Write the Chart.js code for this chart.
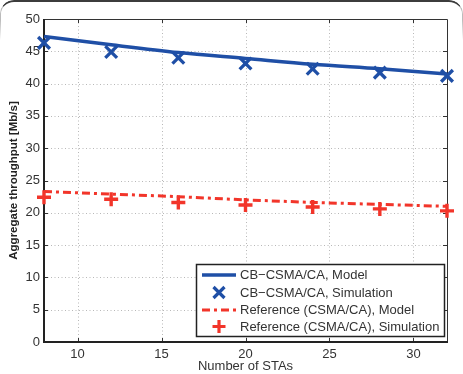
<!DOCTYPE html>
<html>
<head>
<meta charset="utf-8">
<script src="https://cdn.jsdelivr.net/npm/chart.js@4/dist/chart.umd.min.js"></script>
<style>
html,body{margin:0;padding:0;background:#fff;}
#wrap{position:relative;width:463px;height:374px;overflow:hidden;}
#frame{position:absolute;left:0;top:0;width:463px;height:380px;box-sizing:border-box;border-top:2px solid #3c3c3c;border-left:1px solid #bbb;border-right:1px solid #bbb;border-radius:14px 14px 0 0;pointer-events:none;
-webkit-mask-image:linear-gradient(to bottom,#000 0,#000 20px,transparent 40px);mask-image:linear-gradient(to bottom,#000 0,#000 20px,transparent 40px);}
canvas{position:absolute;left:0;top:0;}
</style>
</head>
<body>
<div id="wrap"><canvas id="c" width="463" height="374"></canvas><div id="frame"></div></div>
<script>
const stas = [8, 12, 16, 20, 24, 28, 32];
const cbModel = [47.3, 46.0, 44.8, 43.9, 43.0, 42.3, 41.5];
const cbSim = [46.3, 44.9, 44.0, 43.1, 42.3, 41.7, 41.2];
const refModel = [23.3, 22.9, 22.5, 22.0, 21.6, 21.3, 21.0];
const refSim = [22.4, 22.1, 21.6, 21.2, 20.9, 20.6, 20.3];
const xTicks = [10, 15, 20, 25, 30];
const yTicks = [0, 5, 10, 15, 20, 25, 30, 35, 40, 45, 50];
const seriesNames = ['CB\u2212CSMA/CA, Model', 'CB\u2212CSMA/CA, Simulation', 'Reference (CSMA/CA), Model', 'Reference (CSMA/CA), Simulation'];

const BLUE = '#1f4fa6';
const RED = '#f2352a';
const FONT = '"Liberation Sans", Arial, Helvetica, sans-serif';

function pts(ys){ return stas.map((x,i)=>({x:x, y:ys[i]})); }

const boxPlugin = {
  id: 'boxPlugin',
  beforeDatasetsDraw(chart){
    const {ctx, chartArea:a, scales:{x, y}} = chart;
    ctx.save();
    ctx.strokeStyle = '#b8b8b8';
    ctx.lineWidth = 1;
    ctx.setLineDash([1, 2.5]);
    xTicks.forEach(v=>{ const px = Math.round(x.getPixelForValue(v))+0.5; ctx.beginPath(); ctx.moveTo(px,a.top); ctx.lineTo(px,a.bottom); ctx.stroke(); });
    yTicks.forEach(v=>{ if(v===0||v===50) return; const py = Math.round(y.getPixelForValue(v))+0.5; ctx.beginPath(); ctx.moveTo(a.left,py); ctx.lineTo(a.right,py); ctx.stroke(); });
    ctx.setLineDash([]);
    ctx.strokeStyle = '#333';
    xTicks.forEach(v=>{ const px = Math.round(x.getPixelForValue(v))+0.5; ctx.beginPath(); ctx.moveTo(px,a.bottom); ctx.lineTo(px,a.bottom-4); ctx.moveTo(px,a.top); ctx.lineTo(px,a.top+4); ctx.stroke(); });
    yTicks.forEach(v=>{ const py = Math.round(y.getPixelForValue(v))+0.5; ctx.beginPath(); ctx.moveTo(a.left,py); ctx.lineTo(a.left+4,py); ctx.moveTo(a.right,py); ctx.lineTo(a.right-4,py); ctx.stroke(); });
    ctx.strokeStyle = '#333';
    ctx.lineWidth = 1;
    ctx.beginPath(); ctx.moveTo(a.left, a.top+0.5); ctx.lineTo(a.right+0.5, a.top+0.5); ctx.lineTo(a.right+0.5, a.bottom); ctx.stroke();
    ctx.strokeStyle = '#222';
    ctx.lineWidth = 2;
    ctx.beginPath(); ctx.moveTo(a.left, a.top); ctx.lineTo(a.left, a.bottom); ctx.lineTo(a.right+1, a.bottom); ctx.stroke();
    ctx.restore();
  },
  afterDraw(chart){
    const ctx = chart.ctx;
    const L = 196, T = 264, W = 248, H = 72;
    ctx.save();
    ctx.fillStyle = '#fff';
    ctx.fillRect(L, T, W, H);
    ctx.strokeStyle = '#222';
    ctx.lineWidth = 1.5;
    ctx.strokeRect(L+0.5, T+0.5, W, H);
    const rows = [275, 292.5, 310, 326.5];
    chart.data.datasets.forEach((ds, i)=>{
      const cy = rows[i];
      ctx.strokeStyle = ds.borderColor;
      if (ds.showLine !== false){
        ctx.lineWidth = ds.borderWidth;
        ctx.setLineDash(ds.borderDash || []);
        ctx.beginPath(); ctx.moveTo(202, cy); ctx.lineTo(236, cy); ctx.stroke();
        ctx.setLineDash([]);
      } else {
        ctx.lineWidth = 3.2;
        ctx.beginPath();
        if (ds.pointStyle === 'crossRot'){
          const d = 5.5;
          ctx.moveTo(219-d, cy-d); ctx.lineTo(219+d, cy+d);
          ctx.moveTo(219+d, cy-d); ctx.lineTo(219-d, cy+d);
        } else {
          const r = 6.5;
          ctx.moveTo(219-r, cy); ctx.lineTo(219+r, cy);
          ctx.moveTo(219, cy-r); ctx.lineTo(219, cy+r);
        }
        ctx.stroke();
      }
      ctx.fillStyle = '#333';
      ctx.font = '13px ' + FONT;
      ctx.textBaseline = 'middle';
      ctx.textAlign = 'left';
      ctx.fillText(ds.label, 240, cy+0.5);
    });
    ctx.restore();
  }
};

new Chart(document.getElementById('c'), {
  type: 'line',
  data: {
    datasets: [
      { label: seriesNames[0], data: pts(cbModel), borderColor: BLUE, backgroundColor: BLUE, borderWidth: 3.5, pointRadius: 0, cubicInterpolationMode: 'monotone', clip: false },
      { label: seriesNames[1], data: pts(cbSim), borderColor: BLUE, backgroundColor: BLUE, showLine: false, pointStyle: 'crossRot', pointRadius: 8.3, pointBorderWidth: 3.3, clip: false },
      { label: seriesNames[2], data: pts(refModel), borderColor: RED, backgroundColor: RED, borderWidth: 3, borderDash: [8, 4, 3, 4], pointRadius: 0, clip: false },
      { label: seriesNames[3], data: pts(refSim), borderColor: RED, backgroundColor: RED, showLine: false, pointStyle: 'cross', pointRadius: 7, pointBorderWidth: 3.4, clip: false }
    ]
  },
  options: {
    responsive: false,
    animation: false,
    events: [],
    layout: { padding: { left: 0, right: 16, top: 19, bottom: 0 } },
    plugins: { legend: { display: false }, tooltip: { enabled: false } },
    scales: {
      x: {
        type: 'linear', min: 8, max: 32,
        afterBuildTicks(s){ s.ticks = xTicks.map(v=>({value:v})); },
        afterFit(s){ s.height = 32; },
        grid: { display: false, drawTicks: false },
        border: { display: false },
        ticks: { color: '#333', font: { family: FONT, size: 13 }, padding: 5, maxRotation: 0 },
        title: { display: true, text: 'Number of STAs', color: '#333', font: { family: FONT, size: 13 }, padding: { top: 0, bottom: 0 } }
      },
      y: {
        type: 'linear', min: 0, max: 50,
        afterBuildTicks(s){ s.ticks = yTicks.map(v=>({value:v})); },
        afterFit(s){ s.width = 44; },
        grid: { display: false, drawTicks: false },
        border: { display: false },
        ticks: { color: '#333', font: { family: FONT, size: 13 }, padding: 4 },
        title: { display: true, text: 'Aggregate throughput [Mb/s]', color: '#222', font: { family: FONT, size: 11.5, weight: 'bold' }, padding: { top: 7, bottom: 0 } }
      }
    }
  },
  plugins: [boxPlugin]
});
</script>
</body>
</html>
